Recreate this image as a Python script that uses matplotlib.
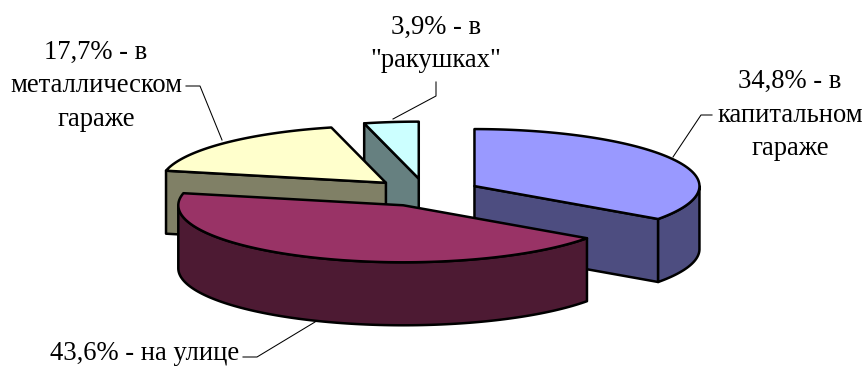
import numpy as np
import matplotlib
matplotlib.use('Agg')
import matplotlib.pyplot as plt
from matplotlib.patches import Polygon

plt.rcParams['font.family'] = ['Liberation Serif', 'DejaVu Serif']

# Slices, clockwise from the top
shares = [34.8, 43.6, 17.7, 3.9]
labels = ['34,8% - в\nкапитальном\nгараже',
          '43,6% - на улице',
          '17,7% - в\nметаллическом\nгараже',
          '3,9% - в\n"ракушках"']
top_colors = ['#9999FF', '#993366', '#FFFFCC', '#CCFFFF']
wall_colors = ['#4D4D80', '#4D1A33', '#808066', '#668080']

# Pie geometry, pixels
cx, cy = 425.5, 192.5
rx, ry = 225, 57
depth = 63
explode = 0.245
lw = 1.8

fig = plt.figure(figsize=(8.64, 3.67), dpi=100)
ax = fig.add_axes([0, 0, 1, 1])
ax.set_xlim(0, 864)
ax.set_ylim(367, 0)
ax.axis('off')


def rim(x0, y0, a0, a1):
    a = np.radians(np.linspace(a0, a1, 120))
    return np.column_stack([x0 + rx * np.sin(a), y0 - ry * np.cos(a)])


edges = np.concatenate([[0], np.cumsum(shares)]) / np.sum(shares) * 360
centers = []
for i in range(len(shares)):
    mid = np.radians((edges[i] + edges[i + 1]) / 2)
    centers.append((cx + explode * rx * np.sin(mid), cy - explode * ry * np.cos(mid)))


def draw_slice(i, z):
    a0, a1 = edges[i], edges[i + 1]
    x0, y0 = centers[i]
    down = np.array([0, depth])
    style = dict(edgecolor='black', linewidth=lw, joinstyle='round', zorder=z)

    # flat side walls, only those turned towards the viewer
    for a, visible in ((a0, 180 < a0 < 360), (a1, 0 < a1 < 180)):
        if visible:
            corner = rim(x0, y0, a, a)[0]
            pts = [corner, (x0, y0), (x0, y0 + depth), corner + down]
            ax.add_patch(Polygon(pts, closed=True, facecolor=wall_colors[i], **style))

    # curved outer wall on the front half
    lo, hi = max(a0, 90), min(a1, 270)
    if lo < hi:
        arc = rim(x0, y0, lo, hi)
        pts = np.vstack([arc, arc[::-1] + down])
        ax.add_patch(Polygon(pts, closed=True, facecolor=wall_colors[i], **style))

    # top face
    pts = np.vstack([[(x0, y0)], rim(x0, y0, a0, a1)])
    ax.add_patch(Polygon(pts, closed=True, facecolor=top_colors[i], **style))


# back slices first, the big front slice last
for z, i in enumerate([3, 2, 0, 1]):
    draw_slice(i, z + 2)

# data labels and their leader lines
label_pos = [(790, 115), (145, 353), (96, 86), (436, 44)]
leaders = [[(712, 115), (701, 115), (673, 157)],
           [(243, 357), (257, 357), (315, 322)],
           [(186, 86), (200, 86), (222, 140)],
           [(436, 82), (436, 96), (393, 119)]]

for i in range(len(labels)):
    ax.text(label_pos[i][0], label_pos[i][1], labels[i], ha='center', va='center',
            fontsize=19.2, linespacing=1.45, color='black', zorder=10)
    xs, ys = zip(*leaders[i])
    ax.plot(xs, ys, color='black', lw=0.75, zorder=9, solid_joinstyle='miter')

fig.savefig('out.png', dpi=100)
